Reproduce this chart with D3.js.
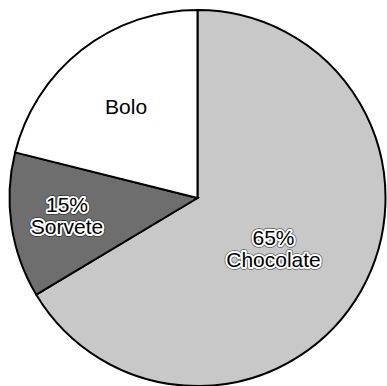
<!DOCTYPE html>
<html>
<head>
<meta charset="utf-8">
<script src="https://cdn.jsdelivr.net/npm/d3@7"></script>
<style>
  html, body { margin: 0; padding: 0; background: #fff; }
  svg { display: block; }
</style>
</head>
<body>
<svg id="chart" width="387" height="386"></svg>
<script>
// Data
const categories = ["Chocolate", "Sorvete", "Bolo"];
const values = [66.4, 12.5, 21.1];
const percentLabels = ["65%", "15%", ""];
const colors = ["#c8c8c8", "#6e6e6e", "#ffffff"];

// Layout constants for label placement (radius fraction, angle nudge in degrees)
const labelRadiusFactor = [0.485, 0.70, 0.617];
const labelAngleNudge = [4, 1, 0];

const cx = 197.5, cy = 198, radius = 188;
const fontSize = 21;

const svg = d3.select("#chart");
const g = svg.append("g").attr("transform", `translate(${cx},${cy})`);

const pie = d3.pie().sort(null).value(d => d.value);
const data = categories.map((c, i) => ({ name: c, value: values[i], pct: percentLabels[i], color: colors[i], lr: labelRadiusFactor[i], na: labelAngleNudge[i] }));
const arcs = pie(data);

const arc = d3.arc().innerRadius(0).outerRadius(radius);

g.selectAll("path.slice")
  .data(arcs)
  .enter().append("path")
  .attr("class", "slice")
  .attr("d", arc)
  .attr("fill", d => d.data.color)
  .attr("stroke", "#000")
  .attr("stroke-width", 2)
  .attr("stroke-linejoin", "miter");

function pos(d) {
  const r = radius * d.data.lr;
  const a = (d.startAngle + d.endAngle) / 2 + d.data.na * Math.PI / 180;
  return [r * Math.sin(a), -r * Math.cos(a)];
}

function addLines(t, d) {
  if (d.data.pct) {
    t.append("tspan").attr("x", 0).attr("y", -3.5).text(d.data.pct);
    t.append("tspan").attr("x", 0).attr("y", 18.5).text(d.data.name);
  } else {
    t.append("tspan").attr("x", 0).attr("y", 7.5).text(d.data.name);
  }
}

// layers: dark outer ring, white halo, black fill
const layers = [
  { stroke: "#000", width: 5.5, opacity: 0.55, fill: "none", halo: true },
  { stroke: "#fff", width: 4, opacity: 1, fill: "none", halo: true },
  { stroke: "none", width: 0, opacity: 1, fill: "#000", halo: false }
];

layers.forEach(L => {
  const sel = g.selectAll(null)
    .data(arcs.filter(d => !L.halo || d.data.pct))
    .enter().append("text")
    .attr("transform", d => `translate(${pos(d)})`)
    .attr("text-anchor", "middle")
    .attr("font-family", "Liberation Sans, Arial, sans-serif")
    .attr("font-size", fontSize)
    .attr("fill", L.fill)
    .attr("stroke", L.stroke)
    .attr("stroke-width", L.width)
    .attr("stroke-opacity", L.opacity)
    .attr("stroke-linejoin", "round");
  sel.each(function(d) { addLines(d3.select(this), d); });
});
</script>
</body>
</html>
